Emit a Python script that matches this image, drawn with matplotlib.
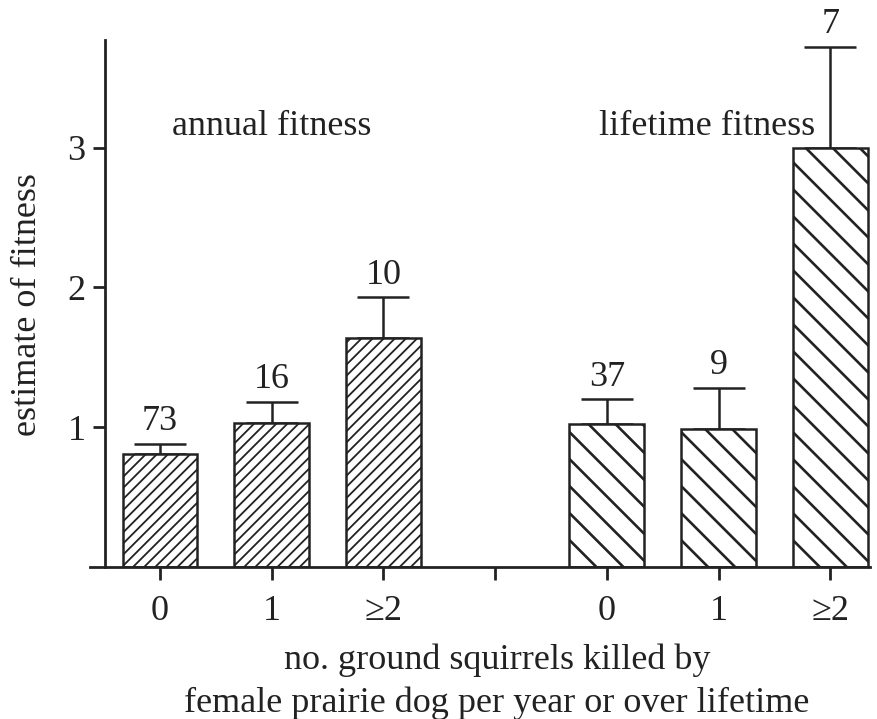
import numpy as np
import matplotlib
matplotlib.use('Agg')
import matplotlib.pyplot as plt
from matplotlib.collections import LineCollection
from matplotlib.transforms import IdentityTransform

plt.rcParams['font.family'] = ['Liberation Serif', 'DejaVu Serif']
plt.rcParams['hatch.linewidth'] = 1.3
plt.rcParams['hatch.color'] = '#222222'

# data
annual_means = [0.81, 1.03, 1.64]
annual_err = [0.07, 0.15, 0.29]
annual_n = ['73', '16', '10']

lifetime_means = [1.02, 0.99, 3.00]
lifetime_err = [0.18, 0.29, 0.72]
lifetime_n = ['37', '9', '7']

tick_labels = ['0', '1', '\u22652', '', '0', '1', '\u22652']

annual_pos = np.arange(3)
lifetime_pos = np.arange(4, 7)

fig = plt.figure(figsize=[8.77, 7.19], dpi=100)
ax = fig.add_axes([90 / 877, 152 / 719, 780 / 877, 527 / 719])
ax.set_xlim(-0.627, 6.356)
ax.set_ylim(0, 3.77)

bw = 0.67
ax.bar(annual_pos, annual_means, width=bw, color='white',
       edgecolor='#222222', linewidth=1.8, hatch='///', zorder=2)
life_bars = ax.bar(lifetime_pos, lifetime_means, width=bw, color='white',
                   edgecolor='#222222', linewidth=1.8, zorder=2)

# wide '\' hatching for the lifetime bars (spacing ~27 px)
step = 27
for p in life_bars:
    (x0, y0), (x1, y1) = ax.transData.transform(
        [[p.get_x(), p.get_y()],
         [p.get_x() + p.get_width(), p.get_y() + p.get_height()]])
    segs = []
    for c in np.arange(x0 + y0 - step * 2, x1 + y1 + step, step):
        segs.append([(x0 - 5, c - (x0 - 5)), (x1 + 5, c - (x1 + 5))])
    lc = LineCollection(segs, colors='#222222', linewidths=1.9,
                        transform=IdentityTransform(), zorder=2.5)
    ax.add_collection(lc, autolim=False)
    lc.set_clip_path(p)

for pos, m, e in [(annual_pos, annual_means, annual_err),
                  (lifetime_pos, lifetime_means, lifetime_err)]:
    ax.errorbar(pos, m, yerr=[np.zeros(len(e)), e], fmt='none',
                ecolor='#222222', elinewidth=1.8, capsize=19,
                capthick=1.8, zorder=1)

for pos, m, e, n in zip(np.r_[annual_pos, lifetime_pos],
                        annual_means + lifetime_means,
                        annual_err + lifetime_err,
                        annual_n + lifetime_n):
    ax.text(pos, m + e + 0.04, n, ha='center', va='bottom',
            fontsize=26, color='#222222')

ax.text(1, 3.15, 'annual fitness', ha='center', va='center',
        fontsize=26, color='#222222')
ax.text(4.9, 3.15, 'lifetime fitness', ha='center', va='center',
        fontsize=26, color='#222222')

ax.spines['top'].set_visible(False)
ax.spines['right'].set_visible(False)
ax.spines['left'].set_position(('data', -0.492))
ax.spines['left'].set_linewidth(2)
ax.spines['bottom'].set_linewidth(2)
ax.spines['left'].set_color('#222222')
ax.spines['bottom'].set_color('#222222')

ax.set_xticks(np.arange(7))
ax.set_xticklabels(tick_labels)
ax.set_yticks([1, 2, 3])
ax.tick_params(axis='both', direction='out', length=9, width=2,
               labelsize=26, colors='#222222')
ax.tick_params(axis='x', pad=11)
ax.tick_params(axis='y', pad=5)

fig.text(497 / 877, 1 - 660 / 719, 'no. ground squirrels killed by',
         ha='center', va='center', fontsize=26, color='#222222')
fig.text(497 / 877, 1 - 703 / 719,
         'female prairie dog per year or over lifetime',
         ha='center', va='center', fontsize=26, color='#222222')
fig.text(28 / 877, 1 - 305 / 719, 'estimate of fitness', rotation=90,
         ha='center', va='center', fontsize=26, color='#222222')

fig.savefig('out.png', dpi=100)
